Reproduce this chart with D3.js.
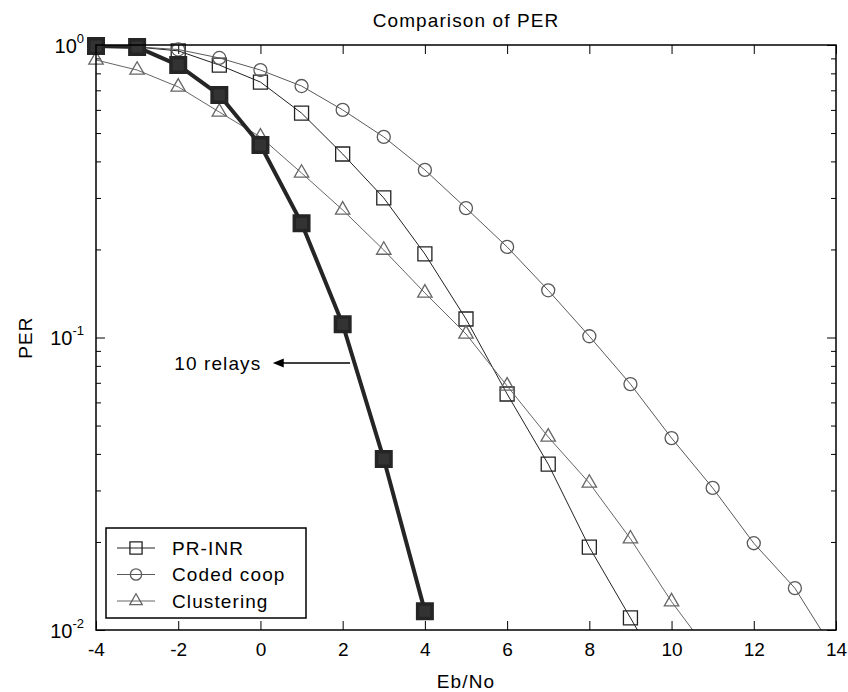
<!DOCTYPE html>
<html>
<head>
<meta charset="utf-8">
<script src="https://cdn.jsdelivr.net/npm/d3@7"></script>
<style>
  body { margin: 0; background: #fff; }
  svg { display: block; font-family: "Liberation Sans", Arial, sans-serif; }
  .label { font-size: 19px; letter-spacing: 1.1px; }
</style>
</head>
<body>
<svg class="per"></svg>
<script>
var svgWidth = 848, svgHeight = 692;
var plotLeft = 96, plotRight = 836, plotTop = 45, plotBottom = 630;

// Eb/No points, shared by all series (each series uses as many as it has values)
var ebNo = [-4, -3, -2, -1, 0, 1, 2, 3, 4, 5, 6, 7, 8, 9, 10, 11, 12, 13, 14];
var perInr10 = [0.992, 0.984, 0.854, 0.675, 0.455, 0.246, 0.111, 0.0384, 0.0116];
var perInr = [0.995, 0.984, 0.955, 0.854, 0.747, 0.585, 0.424, 0.300, 0.193, 0.1157, 0.0641, 0.0369, 0.0192, 0.0110, 0.0063];
var perCoop = [0.995, 0.985, 0.965, 0.903, 0.821, 0.724, 0.600, 0.485, 0.374, 0.277, 0.204, 0.145, 0.101, 0.0693, 0.0453, 0.0306, 0.0198, 0.0139, 0.0083];
var perClus = [0.889, 0.821, 0.719, 0.590, 0.485, 0.365, 0.273, 0.199, 0.142, 0.1028, 0.0683, 0.0457, 0.0318, 0.0205, 0.0125, 0.0081];

var xTicks = [-4, -2, 0, 2, 4, 6, 8, 10, 12, 14];
var yTicks = [1, 0.1, 0.01];
var legendNames = ['PR-INR', 'Coded coop', 'Clustering'];

var x = d3.scaleLinear().domain([-4, 14]).range([plotLeft, plotRight]);
var y = d3.scaleLog().domain([0.01, 1]).range([plotBottom, plotTop]);

function pts(values) {
  return values.map(function(v, i) { return { x: ebNo[i], y: v }; });
}

var series = [
  { name: 'PR-INR', data: pts(perInr), symbol: d3.symbolSquare, size: 196, color: '#222', width: 1 },
  { name: 'Coded coop', data: pts(perCoop), symbol: d3.symbolCircle, size: 133, color: '#5a5a5a', width: 1 },
  { name: 'Clustering', data: pts(perClus), symbol: d3.symbolTriangle, size: 90, color: '#666', width: 1 },
  { name: '10 relays', data: pts(perInr10), symbol: d3.symbolSquare, size: 210, color: '#252525', width: 4, thick: true }
];

var svg = d3.select('svg.per').attr('width', svgWidth).attr('height', svgHeight);

svg.append('defs').append('clipPath').attr('id', 'plot')
  .append('rect')
  .attr('x', plotLeft).attr('y', plotTop)
  .attr('width', plotRight - plotLeft).attr('height', plotBottom - plotTop);

// title and axis labels
svg.append('text')
  .attr('class', 'label')
  .attr('x', (plotLeft + plotRight) / 2).attr('y', 27)
  .attr('text-anchor', 'middle')
  .text('Comparison of PER');

svg.append('text')
  .attr('class', 'label')
  .attr('x', (plotLeft + plotRight) / 2).attr('y', 688)
  .attr('text-anchor', 'middle')
  .text('Eb/No');

svg.append('text')
  .attr('class', 'label')
  .attr('transform', 'translate(32,' + ((plotTop + plotBottom) / 2) + ') rotate(-90)')
  .attr('text-anchor', 'middle')
  .text('PER');

// axes (ticks point inward)
svg.append('g')
  .attr('transform', 'translate(0,' + plotBottom + ')')
  .call(d3.axisBottom(x).tickValues(xTicks).tickSize(-9).tickPadding(13).tickFormat(function(d) { return String(d); }))
  .call(function(g) {
    g.select('.domain').remove();
    g.selectAll('text').style('font-size', '19px').attr('fill', '#000');
  });

svg.append('g')
  .attr('transform', 'translate(0,' + plotTop + ')')
  .call(d3.axisTop(x).tickValues(xTicks).tickSize(-9).tickFormat(''))
  .call(function(g) { g.select('.domain').remove(); });

var minor = [];
[0.01, 0.1].forEach(function(dec) {
  for (var k = 2; k <= 9; k++) minor.push(dec * k);
});

svg.append('g')
  .attr('transform', 'translate(' + plotLeft + ',0)')
  .call(d3.axisLeft(y).tickValues(yTicks).tickSize(-9).tickPadding(12).tickFormat(function() { return ''; }))
  .call(function(g) {
    g.select('.domain').remove();
    g.selectAll('.tick text')
      .style('font-size', '20px').attr('fill', '#000').attr('dy', '0.37em')
      .each(function(d) {
        var t = d3.select(this);
        t.append('tspan').text('10');
        t.append('tspan').attr('dy', -10).style('font-size', '13px')
          .text(String(Math.round(Math.log10(d))));
      });
  });

svg.append('g')
  .attr('transform', 'translate(' + plotLeft + ',0)')
  .call(d3.axisLeft(y).tickValues(minor).tickSize(-5).tickFormat(''))
  .call(function(g) { g.select('.domain').remove(); });

svg.append('g')
  .attr('transform', 'translate(' + plotRight + ',0)')
  .call(d3.axisRight(y).tickValues(yTicks).tickSize(-9).tickFormat(''))
  .call(function(g) { g.select('.domain').remove(); });

svg.append('g')
  .attr('transform', 'translate(' + plotRight + ',0)')
  .call(d3.axisRight(y).tickValues(minor).tickSize(-5).tickFormat(''))
  .call(function(g) { g.select('.domain').remove(); });

svg.selectAll('.tick line').attr('stroke', '#000');

// series lines
var line = d3.line()
  .x(function(d) { return x(d.x); })
  .y(function(d) { return y(d.y); });

var sg = svg.selectAll('g.series')
  .data(series)
  .enter()
  .append('g')
  .attr('class', 'series');

sg.append('path')
  .attr('clip-path', 'url(#plot)')
  .attr('fill', 'none')
  .attr('stroke', function(d) { return d.color; })
  .attr('stroke-width', function(d) { return d.width; })
  .attr('stroke-linejoin', 'round')
  .attr('d', function(d) { return line(d.data); });

sg.each(function(s) {
  d3.select(this).selectAll('path.mark')
    .data(s.data.filter(function(d) { return d.y >= 0.01 && d.x <= 14; }))
    .enter()
    .append('path')
    .attr('class', 'mark')
    .attr('transform', function(d) { return 'translate(' + x(d.x) + ',' + y(d.y) + ')'; })
    .attr('d', d3.symbol().type(s.symbol).size(s.size))
    .attr('fill', s.thick ? '#333' : 'none')
    .attr('stroke', s.color)
    .attr('stroke-width', s.thick ? 3.5 : 1.3);
});

// plot box
svg.append('rect')
  .attr('x', plotLeft).attr('y', plotTop)
  .attr('width', plotRight - plotLeft).attr('height', plotBottom - plotTop)
  .attr('fill', 'none')
  .attr('stroke', '#000')
  .attr('stroke-width', 1.5);

// annotation: 10 relays
var annY = 0.0818;
svg.append('line')
  .attr('x1', x(2.18)).attr('y1', y(annY))
  .attr('x2', x(0.55)).attr('y2', y(annY))
  .attr('stroke', '#000').attr('stroke-width', 1.3);
svg.append('path')
  .attr('d', 'M' + x(0.30) + ',' + y(annY) + 'l11,-4.5l0,9z')
  .attr('fill', '#000');
svg.append('text')
  .attr('class', 'label')
  .attr('x', x(0.02)).attr('y', y(annY))
  .attr('dy', '0.35em')
  .attr('text-anchor', 'end')
  .text('10 relays');

// legend
var legend = svg.append('g').attr('class', 'legend');
legend.append('rect')
  .attr('x', 106).attr('y', 528)
  .attr('width', 200).attr('height', 90)
  .attr('fill', '#fff')
  .attr('stroke', '#000')
  .attr('stroke-width', 1.5);

var items = legend.selectAll('g.item')
  .data(series.slice(0, 3))
  .enter()
  .append('g')
  .attr('class', 'item')
  .attr('transform', function(d, i) { return 'translate(0,' + (548 + 26.5 * i) + ')'; });

items.append('line')
  .attr('x1', 117).attr('x2', 155)
  .attr('stroke', function(d) { return d.color; });
items.append('path')
  .attr('transform', 'translate(136,0)')
  .attr('d', function(d) { return d3.symbol().type(d.symbol).size(d.size * 0.75)(); })
  .attr('fill', 'none')
  .attr('stroke', function(d) { return d.color; })
  .attr('stroke-width', 1.3);
items.append('text')
  .attr('class', 'label')
  .attr('x', 172).attr('dy', '0.35em')
  .text(function(d, i) { return legendNames[i]; });
</script>
</body>
</html>
